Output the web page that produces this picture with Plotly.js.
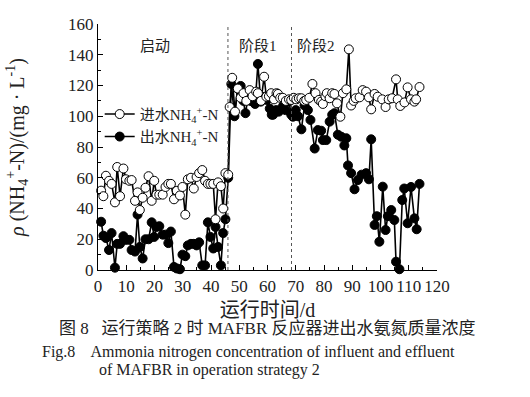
<!DOCTYPE html>
<html><head><meta charset="utf-8">
<script src="https://cdn.plot.ly/plotly-3.0.1.min.js"></script>
<style>html,body{margin:0;padding:0;background:#fff}#chart{width:530px;height:397px}</style>
</head><body><div id="chart"></div>
<script>
// Startup phase days (shared by both series)
const startDays = [1.1,1.9,2.8,3.9,4.8,6.0,6.8,7.8,9.0,9.9,11.1,11.9,13.1,14.0,14.8,15.8,16.8,17.9,19.0,19.9,20.7,21.7,22.9,23.9,24.9,25.8,26.9,27.9,29.0,29.9,30.9,31.8,32.9,33.9,34.9,35.8,36.9,37.9,38.9,39.8,40.8,41.6,42.5,43.5,44.3,45.1,46.1];
const startIn  = [51.6,48,61.3,58,56,44,67,48,66,59,58,58.5,45,50.5,39,47,53.5,61,45,58,49,49,49,54,56,56,46,51.5,48.5,54,36,59,60,53,60.5,63,65,58,56,56,56,33,57,54.5,40,63,62];
const startOut = [31.4,22.3,20.8,13,24,1.5,17,17,22,19.6,19.6,13,12,36,15,7.5,20,20,31,21.5,28,28.5,23,23,17.5,25,2,1,0.5,10,9,16,17,17,16,18,3,3,31,21.5,14,28,15,3,24,33,60];

// Phase 1 + phase 2, influent
const laterInDays = [46.6,47.5,48.5,49.5,50.5,51.5,52.5,53.7,54.7,56.0,56.6,57.7,58.8,59.6,60.5,61.3,62.3,63.2,63.7,64.5,65.4,66.5,67.6,
  68.4,69.3,70.2,71.1,72.0,73.0,73.7,74.8,75.9,77.0,78.2,79.0,79.6,80.5,81.0,82.0,82.9,83.7,84.6,85.8,86.7,87.9,88.8,89.6,90.5,91.2,92.6,93.7,94.9,95.9,96.7,97.9,99.0,100.6,101.8,102.9,104.1,105.5,106.1,107.0,108.5,109.6,110.8,112.0,112.6,113.8];
const laterIn = [106,125,103,118,112,115,110,117,113,116,115,110,125.7,112.7,113,115,111,115,114.5,112,112,110,111,
  110.6,112,111,111.7,111.7,110,110.6,112,121,115,110.6,109.5,108,113,115,111.7,115,114.5,108.4,99.7,115,117.5,143.5,107,110,111.7,112.3,117,116,112.3,104.5,114.5,112.7,111,106,111,111.7,124,111,106.7,109,118.8,111,109.5,111,119];

// Phase 1 + phase 2, effluent
const laterOutDays = [47.2,48.3,49.4,50.5,51.5,52.2,53.1,54.0,54.8,55.6,56.6,57.6,58.4,59.0,59.8,60.8,61.5,62.0,63.1,64.0,65.5,66.4,67.6,
  68.4,69.0,70.0,70.8,72.0,73.1,74.3,75.2,76.7,77.8,79.0,79.6,80.8,82.0,82.9,83.7,84.9,86.1,87.2,87.9,88.5,89.6,90.8,92.0,93.3,94.9,95.9,96.7,97.9,98.7,99.6,100.8,101.8,102.6,103.8,104.9,105.5,106.7,107.7,108.4,109.6,110.8,112.0,112.8,113.8];
const laterOut = [121,100,118,119.7,110,102,112,110,109.5,108,134,109.5,112,112.7,110.6,105,101,101,104,103,106.7,104,109.5,
  101,99.7,104,100,91.5,107,104,97.6,79,91,90.6,84.5,84.5,96.5,101,102,88,86.7,81,85.7,68,63,52.5,58.5,62,63,59,85,29.3,35,18.4,54.2,26,35,39,32.5,5.4,0.5,45.5,53,30.4,54,33.6,26.5,56];

const inDays = startDays.concat(laterInDays);
const inVals = startIn.concat(laterIn);
const outDays = startDays.concat(laterOutDays);
const outVals = startOut.concat(laterOut);

const xTicks = [0,10,20,30,40,50,60,70,80,90,100,110,120];
const yTicks = [0,20,40,60,80,100,120,140,160];
const phaseBounds = [46, 68.5];
const phaseLabels = [{x:20,t:'启动'},{x:56.5,t:'阶段1'},{x:77,t:'阶段2'}];

const serif = 'Liberation Serif';
const cjk = 'Liberation Serif, Noto Sans CJK SC, serif';

const traces = [
  {x: outDays, y: outVals, name: '出水NH<sub>4</sub><sup>+</sup>-N', type:'scatter', mode:'lines+markers',
   line:{color:'#000', width:1.6}, marker:{symbol:'circle', size:9, color:'#000', line:{color:'#000', width:1}}, cliponaxis:false},
  {x: inDays, y: inVals, name: '进水NH<sub>4</sub><sup>+</sup>-N', type:'scatter', mode:'lines+markers',
   line:{color:'#000', width:1.6}, marker:{symbol:'circle', size:9, color:'#fff', line:{color:'#000', width:1}}, cliponaxis:false}
];

const shapes = phaseBounds.map(b => ({type:'line', xref:'x', yref:'y', x0:b, x1:b, y0:0, y1:160,
  line:{color:'#555', width:1, dash:'dot'}}));

const annotations = phaseLabels.map(p => ({x:p.x, y:146, xref:'x', yref:'y', text:p.t, showarrow:false,
  font:{family:cjk, size:15, color:'#222'}}));
annotations.push(
  {xref:'paper', yref:'paper', x:0.5, y:-0.285, text:'图 8   运行策略 2 时 MAFBR 反应器进出水氨氮质量浓度', showarrow:false,
   font:{family:cjk, size:17, color:'#222'}},
  {xref:'paper', yref:'paper', x:-0.172, xanchor:'left', y:-0.378, text:'Fig.8    Ammonia nitrogen concentration of influent and effluent', showarrow:false,
   font:{family:serif, size:16, color:'#222'}},
  {xref:'paper', yref:'paper', x:-0.003, xanchor:'left', y:-0.452, text:'of MAFBR in operation strategy 2', showarrow:false,
   font:{family:serif, size:16, color:'#222'}}
);

const layout = {
  width:530, height:397,
  margin:{l:98, r:93, t:24, b:127},
  paper_bgcolor:'#fff', plot_bgcolor:'#fff',
  font:{family:serif, color:'#222'},
  showlegend:true,
  legend:{x:0.005, y:0.70, xanchor:'left', yanchor:'top', traceorder:'reversed', bgcolor:'rgba(0,0,0,0)',
    font:{family:cjk, size:15, color:'#222'}, itemwidth:30, tracegroupgap:0},
  xaxis:{range:[0,120], tickvals:xTicks, ticktext:xTicks.map(String), ticks:'inside', ticklen:5, tickcolor:'#000',
    showline:true, linecolor:'#000', linewidth:1.2, showgrid:false, zeroline:false, mirror:false,
    minor:{ticks:'inside', dtick:5, ticklen:3, tickcolor:'#000'},
    tickfont:{family:serif, size:17, color:'#222'},
    title:{text:'运行时间/d', font:{family:cjk, size:20, color:'#222'}, standoff:8}},
  yaxis:{range:[0,160], tickvals:yTicks, ticktext:yTicks.map(String), ticks:'inside', ticklen:5, tickcolor:'#000',
    showline:true, linecolor:'#000', linewidth:1.2, showgrid:false, zeroline:false,
    minor:{ticks:'inside', dtick:10, ticklen:3, tickcolor:'#000'},
    tickfont:{family:serif, size:17, color:'#222'},
    title:{text:'<i>ρ</i> (NH<sub>4</sub><sup>+</sup>-N)/(mg · L<sup>-1</sup>)', font:{family:serif, size:20, color:'#222'}, standoff:38}},
  shapes:shapes,
  annotations:annotations
};

Plotly.newPlot('chart', traces, layout, {staticPlot:true, displayModeBar:false});
</script></body></html>
